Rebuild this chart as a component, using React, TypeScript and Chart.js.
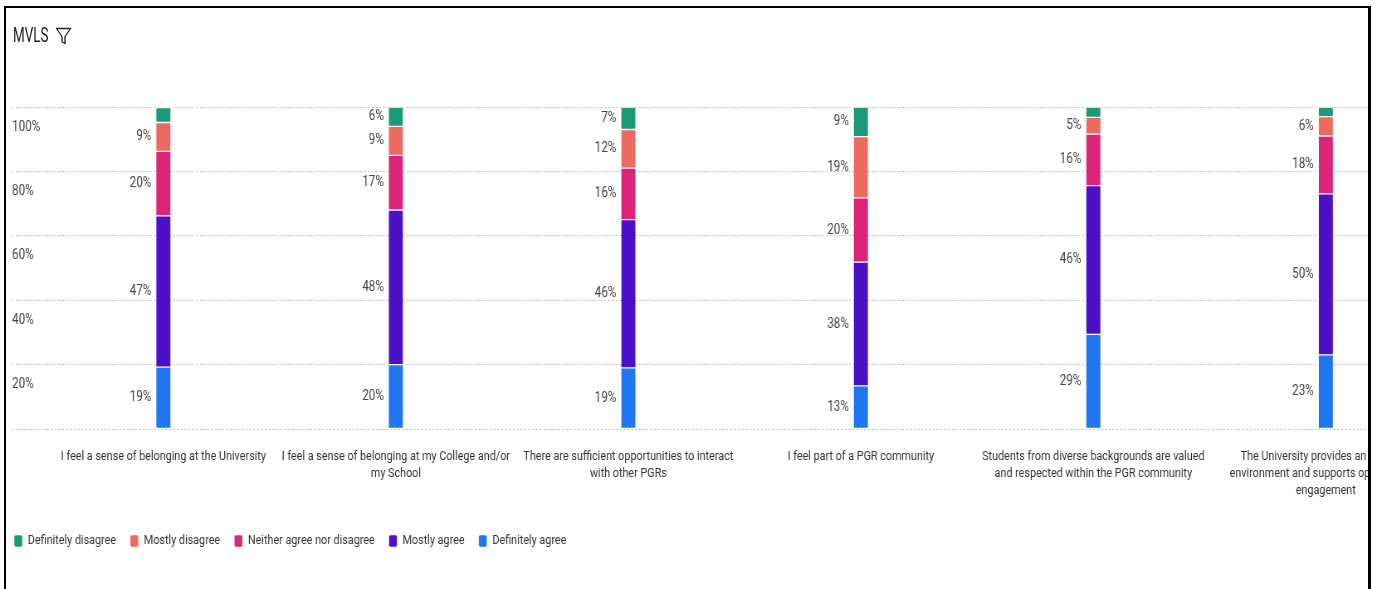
import React, { useEffect, useRef } from 'react';
import { Chart, registerables } from 'chart.js';

Chart.register(...registerables);

// ---- data ----
const categories: string[][] = [
  ['I feel a sense of belonging at the University'],
  ['I feel a sense of belonging at my College and/or', 'my School'],
  ['There are sufficient opportunities to interact', 'with other PGRs'],
  ['I feel part of a PGR community'],
  ['Students from diverse backgrounds are valued', 'and respected within the PGR community'],
  ['The University provides an inclusive', 'environment and supports opportunities', 'engagement'],
];

// stacked bottom -> top (percent)
const definitelyAgree = [19.2, 20, 19, 13.4, 29.4, 23];
const mostlyAgree = [47, 48, 46, 38.4, 46.2, 50];
const neitherAgreeNorDisagree = [20, 17, 16, 20, 16, 18];
const mostlyDisagree = [9, 9, 12, 19, 5.2, 6];
const definitelyDisagree = [4.6, 6, 7, 9.2, 3.2, 3];

const seriesNames = [
  'Definitely agree',
  'Mostly agree',
  'Neither agree nor disagree',
  'Mostly disagree',
  'Definitely disagree',
];
const seriesValues = [definitelyAgree, mostlyAgree, neitherAgreeNorDisagree, mostlyDisagree, definitelyDisagree];
const seriesColors = ['#1f76f0', '#4c10c8', '#dc2479', '#ed6a60', '#1b9a77'];

const yTickStep = 20;
const labelThreshold = 5;

// ---- layout ----
const S = 0.83; // horizontal compression of the whole chart
const FONT = 'Roboto, "Noto Sans", sans-serif';
const CW = 1748;
const CH = 510;
const PAD_LEFT = 14.6;
const Y_AXIS_W = 42.2;
const CAT_W = 280.1;
const PAD_RIGHT = CW - PAD_LEFT - Y_AXIS_W - CAT_W * categories.length;

const valueLabels = {
  id: 'valueLabels',
  afterDatasetsDraw(chart: any) {
    const ctx = chart.ctx;
    ctx.save();
    ctx.font = `14px ${FONT}`;
    ctx.fillStyle = '#444';
    ctx.textAlign = 'right';
    ctx.textBaseline = 'middle';
    chart.data.datasets.forEach((ds: any, di: number) => {
      const meta = chart.getDatasetMeta(di);
      if (meta.hidden) return;
      meta.data.forEach((el: any, i: number) => {
        const v = ds.data[i] as number;
        if (v < labelThreshold) return;
        const p = el.getProps(['x', 'y', 'base', 'width'], true);
        ctx.fillText(Math.round(v) + '%', p.x - p.width / 2 - 6, (p.y + p.base) / 2);
      });
    });
    ctx.restore();
  },
};

const legendShift = {
  id: 'legendShift',
  afterLayout(chart: any) {
    if (chart.legend) {
      chart.legend.left = 0;
    }
  },
};

export default function App() {
  const ref = useRef<HTMLCanvasElement>(null);

  useEffect(() => {
    if (!ref.current) return;
    const chart = new Chart(ref.current, {
      type: 'bar',
      data: {
        labels: categories as any,
        datasets: seriesNames.map((name, i) => ({
          label: name,
          data: seriesValues[i],
          backgroundColor: seriesColors[i],
          borderColor: '#ffffff',
          borderWidth: { top: 1, bottom: 1, left: 0, right: 0 },
          borderSkipped: false,
          borderRadius: 2,
          barThickness: 17,
        })),
      },
      options: {
        animation: false,
        responsive: false,
        layout: { padding: { left: PAD_LEFT, right: PAD_RIGHT, top: 47, bottom: 12.5 } },
        plugins: {
          legend: {
            position: 'bottom',
            align: 'start',
            reverse: true,
            labels: {
              boxWidth: 10,
              boxHeight: 12,
              useBorderRadius: true,
              borderRadius: 2,
              padding: 17,
              color: '#333',
              font: { size: 13, family: FONT },
            },
          },
          tooltip: { enabled: false },
        },
        scales: {
          x: {
            stacked: true,
            grid: { display: false, drawTicks: false },
            border: { display: false },
            ticks: {
              padding: 19.5,
              color: '#333',
              maxRotation: 0,
              autoSkip: false,
              font: { size: 13, family: FONT, lineHeight: 1.3 },
            },
            afterFit: (s: any) => {
              s.height = 88.5;
            },
          },
          y: {
            stacked: true,
            min: 0,
            max: 100,
            border: { display: false, dash: [1.6, 3] },
            grid: {
              color: '#aaaaaa',
              lineWidth: 1,
              drawTicks: true,
              tickLength: Y_AXIS_W,
              tickBorderDash: [1.6, 3],
              tickColor: '#aaaaaa',
            },
            ticks: {
              stepSize: yTickStep,
              labelOffset: 20,
              crossAlign: 'far',
              padding: 0,
              color: '#444',
              font: { size: 14, family: FONT },
              callback: (v: any) => (Number(v) === 0 ? '' : v + '%'),
            },
            afterFit: (s: any) => {
              s.width = Y_AXIS_W;
            },
          },
        },
      } as any,
      plugins: [valueLabels, legendShift],
    });
    return () => chart.destroy();
  }, []);

  return (
    <div style={{ position: 'absolute', left: 0, top: 0, width: 1379, height: 589, overflow: 'hidden', background: '#fff' }}>
      <div style={{ position: 'absolute', left: 0, top: 0, width: 1368, height: 589, overflow: 'hidden' }}>
        <div
          style={{
            position: 'absolute',
            left: 0,
            top: 60,
            width: CW,
            height: CH,
            transform: `scaleX(${S})`,
            transformOrigin: '0 0',
          }}
        >
          <canvas ref={ref} width={CW} height={CH} style={{ display: 'block' }} />
        </div>
      </div>
      <div
        style={{
          position: 'absolute',
          left: 4,
          top: 6,
          width: 1367,
          height: 583,
          boxSizing: 'border-box',
          borderLeft: '2px solid #000',
          borderTop: '2px solid #000',
          borderRight: '3px solid #000',
          pointerEvents: 'none',
        }}
      />
      <div
        style={{
          position: 'absolute',
          left: 13,
          top: 24.5,
          fontFamily: FONT,
          fontSize: 21,
          lineHeight: '21px',
          color: '#222',
          transform: 'scaleX(0.64)',
          transformOrigin: '0 0',
          whiteSpace: 'nowrap',
        }}
      >
        MVLS
      </div>
      <svg
        style={{ position: 'absolute', left: 55, top: 27 }}
        width={17}
        height={18}
        viewBox="0 0 17 18"
      >
        <path d="M1.5 1.5 H15.5 L10 9.5 V16.5 L7 15 V9.5 Z" fill="none" stroke="#222" strokeWidth={1.3} strokeLinejoin="round" />
      </svg>
    </div>
  );
}
